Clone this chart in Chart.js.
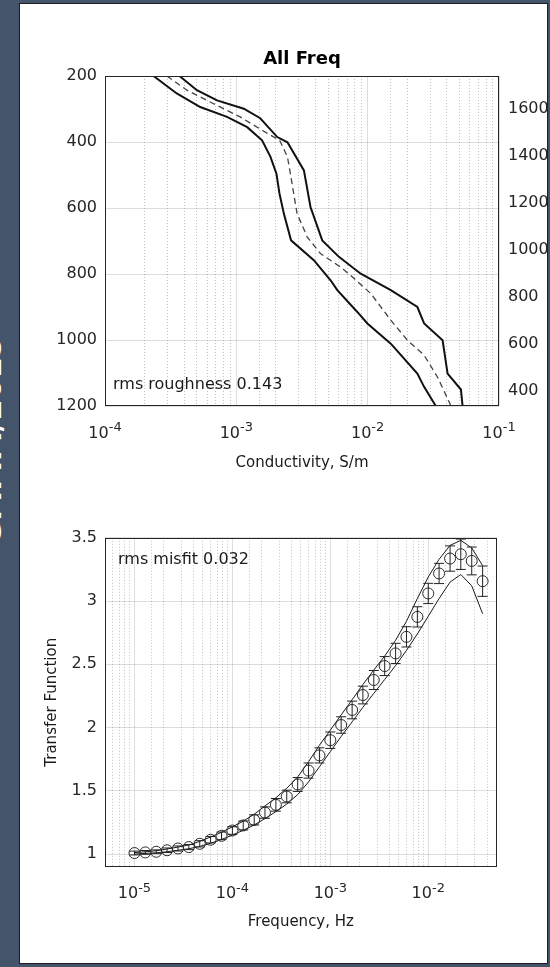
<!DOCTYPE html>
<html>
<head>
<meta charset="utf-8">
<script src="https://cdn.jsdelivr.net/npm/chart.js@4.4.1/dist/chart.umd.min.js"></script>
<style>
  body { margin: 0; width: 550px; height: 967px; background: #44546a; position: relative; overflow: hidden; }
  .side { position: absolute; left: -122px; top: 426px; width: 220px; height: 30px; line-height: 30px;
          color: #fff; font: bold 30px "DejaVu Sans", sans-serif; text-align: center; white-space: nowrap;
          transform: rotate(-90deg); }
  .panel { position: absolute; left: 19px; top: 3px; width: 527px; height: 959px; background: #fff; border: 1px solid #1e1e1e; }
  canvas { position: absolute; left: 0; }
</style>
</head>
<body>
<div class="side">GMMM/2015</div>
<div class="panel"></div>
<canvas id="topChart" width="550" height="490" style="top:0"></canvas>
<canvas id="botChart" width="550" height="487" style="top:480px"></canvas>
<script>
// ---- top panel: conductivity bounds vs depth ----
const condTicks = [1e-4, 1e-3, 1e-2, 1e-1];
const condTickLabels = ["10^-4", "10^-3", "10^-2", "10^-1"];
const depthTicks = [200, 400, 600, 800, 1000, 1200];
const depthTickLabels = ["200", "400", "600", "800", "1000", "1200"];
const rightTicks = [400, 600, 800, 1000, 1200, 1400, 1600];
const rightTickLabels = ["400", "600", "800", "1000", "1200", "1400", "1600"];

const loDepth = [200, 253, 294, 324, 355, 395, 445, 496, 556, 617, 698, 758, 819, 849, 915, 950, 1011, 1102, 1142, 1200];
const loSigma = [2.34e-4, 3.52e-4, 5.31e-4, 8.49e-4, 1.21e-3, 1.57e-3, 1.82e-3, 2.02e-3, 2.13e-3, 2.30e-3,
                 2.61e-3, 3.89e-3, 5.22e-3, 5.87e-3, 8.34e-3, 9.95e-3, 0.0150, 0.0239, 0.0269, 0.0330];

const midDepth = [200, 243, 284, 324, 365, 395, 445, 496, 617, 688, 738, 779, 804, 859, 940, 1001, 1046, 1112, 1200];
const midSigma = [2.96e-4, 4.21e-4, 6.71e-4, 1.07e-3, 1.58e-3, 2.14e-3, 2.45e-3, 2.58e-3, 2.90e-3, 3.47e-3,
                  4.37e-3, 6.22e-3, 7.41e-3, 0.01055, 0.0150, 0.0201, 0.0269, 0.0340, 0.0431];

const hiDepth = [200, 243, 274, 299, 328, 385, 401, 486, 597, 698, 748, 799, 849, 900, 950, 1001, 1102, 1150, 1200];
const hiSigma = [3.69e-4, 5.01e-4, 7.13e-4, 1.14e-3, 1.52e-3, 2.05e-3, 2.45e-3, 3.27e-3, 3.67e-3, 4.51e-3,
                 6.04e-3, 8.85e-3, 0.0150, 0.0239, 0.0269, 0.0372, 0.0406, 0.0513, 0.0528];

// ---- bottom panel: transfer function vs frequency ----
const freqTicks = [1e-5, 1e-4, 1e-3, 1e-2];
const freqTickLabels = ["10^-5", "10^-4", "10^-3", "10^-2"];
const tfTicks = [1, 1.5, 2, 2.5, 3, 3.5];
const tfTickLabels = ["1", "1.5", "2", "2.5", "3", "3.5"];

const freq = [1.00e-5, 1.29e-5, 1.67e-5, 2.15e-5, 2.78e-5, 3.59e-5, 4.64e-5, 5.99e-5, 7.74e-5,
              1.00e-4, 1.29e-4, 1.67e-4, 2.15e-4, 2.78e-4, 3.59e-4, 4.64e-4, 5.99e-4, 7.74e-4,
              1.00e-3, 1.29e-3, 1.67e-3, 2.15e-3, 2.78e-3, 3.59e-3, 4.64e-3, 5.99e-3, 7.74e-3,
              1.00e-2, 1.29e-2, 1.67e-2, 2.15e-2, 2.78e-2, 3.59e-2];
const tfObs = [1.008, 1.013, 1.018, 1.030, 1.044, 1.055, 1.081, 1.113, 1.144,
               1.186, 1.226, 1.270, 1.328, 1.389, 1.455, 1.550, 1.660, 1.780,
               1.900, 2.020, 2.139, 2.257, 2.376, 2.486, 2.586, 2.717, 2.875,
               3.060, 3.218, 3.336, 3.370, 3.317, 3.157];
const tfErr = [0.015, 0.015, 0.015, 0.018, 0.020, 0.020, 0.025, 0.025, 0.030,
               0.030, 0.035, 0.040, 0.045, 0.050, 0.050, 0.055, 0.060, 0.060,
               0.065, 0.065, 0.070, 0.070, 0.075, 0.075, 0.080, 0.080, 0.080,
               0.080, 0.080, 0.100, 0.120, 0.110, 0.120];
const tfLo = [1.000, 1.005, 1.010, 1.018, 1.030, 1.042, 1.060, 1.085, 1.115,
              1.150, 1.188, 1.230, 1.280, 1.335, 1.395, 1.470, 1.570, 1.690,
              1.810, 1.930, 2.045, 2.160, 2.270, 2.380, 2.490, 2.610, 2.740,
              2.880, 3.020, 3.150, 3.210, 3.120, 2.900];
const tfHi = [1.012, 1.018, 1.026, 1.040, 1.055, 1.072, 1.100, 1.135, 1.172,
              1.215, 1.260, 1.315, 1.380, 1.445, 1.520, 1.610, 1.730, 1.860,
              1.980, 2.100, 2.220, 2.340, 2.455, 2.565, 2.690, 2.840, 3.020,
              3.190, 3.330, 3.440, 3.480, 3.420, 3.280];

Chart.defaults.font.family = '"DejaVu Sans", sans-serif';
Chart.defaults.color = "#262626";
Chart.defaults.animation = false;

const FONT = '"DejaVu Sans", sans-serif';
const MAJOR_GRID = "rgba(0,0,0,0.13)";
const MINOR_GRID = "rgba(0,0,0,0.24)";
const pts = (xs, ys) => xs.map((x, i) => ({ x, y: ys[i] }));
const isDecade = (v) => Math.abs(Math.log10(v) - Math.round(Math.log10(v))) < 1e-6;
const labelFor = (ticks, labels) => (v) => {
  const i = ticks.findIndex((t) => Math.abs(t - v) <= Math.abs(t) * 1e-6);
  return i < 0 ? "" : labels[i];
};

// box round the plot area, the note inside it, and the 10^n labels under the log axis
const boxNote = {
  id: "boxNote",
  afterDraw(chart, args, o) {
    const { ctx, chartArea: a } = chart;
    ctx.save();
    ctx.strokeStyle = "#262626";
    ctx.lineWidth = 1;
    ctx.strokeRect(Math.round(a.left) + 0.5, Math.round(a.top) + 0.5, Math.round(a.width) - 1, Math.round(a.height) - 1);

    ctx.fillStyle = "#1a1a1a";
    ctx.font = "16px " + FONT;
    ctx.textBaseline = "middle";
    ctx.fillText(o.text, a.left + o.dx, o.fromBottom ? a.bottom - o.dy : a.top + o.dy);

    const sx = chart.scales.x;
    ctx.fillStyle = "#262626";
    ctx.textBaseline = "alphabetic";
    o.ticks.forEach((v, i) => {
      const [base, exp] = o.labels[i].split("^");
      ctx.font = "16px " + FONT;
      const wb = ctx.measureText(base).width;
      ctx.font = "13px " + FONT;
      const we = ctx.measureText(exp).width;
      const x0 = sx.getPixelForValue(v) - (wb + we) / 2;
      const yb = a.bottom + 31.5;
      ctx.font = "16px " + FONT;
      ctx.fillText(base, x0, yb);
      ctx.font = "13px " + FONT;
      ctx.fillText(exp, x0 + wb, yb - 6.5);
    });
    ctx.restore();
  },
};

// main log axis (solid decade lines) and a twin for the dotted minor lines
function logAxes(min, max, title, height, titlePad) {
  return {
    x: {
      type: "logarithmic", position: "bottom", min, max,
      afterFit: (s) => { s.height = height; },
      border: { display: false },
      grid: { drawTicks: false, color: (c) => (c.tick && isDecade(c.tick.value) ? MAJOR_GRID : "transparent") },
      ticks: { display: false, autoSkip: false },
      title: { display: true, text: title, font: { size: 15 }, color: "#1a1a1a", padding: { top: 0, bottom: titlePad } },
    },
    xMinor: {
      type: "logarithmic", position: "bottom", min, max,
      afterFit: (s) => { s.height = 0; },
      border: { display: false, dash: [1, 2] },
      grid: { drawTicks: false, color: (c) => (c.tick && !isDecade(c.tick.value) ? MINOR_GRID : "transparent") },
      ticks: { display: false, autoSkip: false },
    },
  };
}

new Chart(document.getElementById("topChart"), {
  type: "scatter",
  data: {
    datasets: [
      { data: pts(loSigma, loDepth), showLine: true, borderColor: "#111", borderWidth: 2, pointRadius: 0 },
      { data: pts(midSigma, midDepth), showLine: true, borderColor: "#444", borderWidth: 1.3, borderDash: [6, 4], pointRadius: 0 },
      { data: pts(hiSigma, hiDepth), showLine: true, borderColor: "#111", borderWidth: 2, pointRadius: 0 },
    ],
  },
  options: {
    responsive: false,
    layout: { padding: 0 },
    plugins: {
      legend: { display: false },
      tooltip: { enabled: false },
      title: {
        display: true, text: "All Freq", fullSize: false, color: "#000",
        font: { size: 18, weight: "bold" }, padding: { top: 49, bottom: 5.4 },
      },
      boxNote: { text: "rms roughness 0.143", dx: 8, dy: 21, fromBottom: true, ticks: condTicks, labels: condTickLabels },
    },
    scales: {
      ...logAxes(1e-4, 1e-1, "Conductivity, S/m", 84, 18),
      y: {
        type: "linear", reverse: true, min: 200, max: 1200,
        afterFit: (s) => { s.width = 105; },
        afterBuildTicks: (s) => { s.ticks = depthTicks.map((value) => ({ value })); },
        border: { display: false },
        grid: { drawTicks: false, color: MAJOR_GRID },
        ticks: { padding: 8, font: { size: 16 }, callback: labelFor(depthTicks, depthTickLabels) },
      },
      y2: {
        type: "linear", position: "right", min: 336, max: 1742,
        afterFit: (s) => { s.width = 51; },
        afterBuildTicks: (s) => { s.ticks = rightTicks.map((value) => ({ value })); },
        border: { display: false },
        grid: { drawTicks: false, drawOnChartArea: false },
        ticks: { padding: 9, font: { size: 16 }, callback: labelFor(rightTicks, rightTickLabels) },
      },
    },
  },
  plugins: [boxNote],
});

new Chart(document.getElementById("botChart"), {
  type: "scatter",
  data: {
    datasets: [
      {
        // error bars: one short vertical segment per frequency, caps from the 'line' point style
        data: freq.flatMap((f, i) => [{ x: f, y: tfObs[i] - tfErr[i] }, { x: f, y: tfObs[i] + tfErr[i] }, { x: f, y: null }]),
        showLine: true, spanGaps: false, borderColor: "#222", borderWidth: 1,
        pointStyle: "line", pointRadius: 5, pointBorderColor: "#222", pointBorderWidth: 1,
      },
      {
        data: pts(freq, tfObs), pointStyle: "circle", pointRadius: 5.5,
        pointBackgroundColor: "rgba(0,0,0,0)", pointBorderColor: "#2a2a2a", pointBorderWidth: 1,
      },
      { data: pts(freq, tfLo), showLine: true, borderColor: "#1a1a1a", borderWidth: 1, pointRadius: 0 },
      { data: pts(freq, tfHi), showLine: true, borderColor: "#1a1a1a", borderWidth: 1, pointRadius: 0 },
    ],
  },
  options: {
    responsive: false,
    layout: { padding: { top: 57.8, right: 53.3 } },
    plugins: {
      legend: { display: false },
      tooltip: { enabled: false },
      boxNote: { text: "rms misfit 0.032", dx: 13, dy: 22, fromBottom: false, ticks: freqTicks, labels: freqTickLabels },
    },
    scales: {
      ...logAxes(5e-6, 5e-2, "Frequency, Hz", 100.3, 36),
      y: {
        type: "linear", min: 0.9, max: 3.5,
        afterFit: (s) => { s.width = 105; },
        afterBuildTicks: (s) => { s.ticks = tfTicks.map((value) => ({ value })); },
        border: { display: false },
        grid: { drawTicks: false, color: MAJOR_GRID },
        ticks: { padding: 8, font: { size: 16 }, callback: labelFor(tfTicks, tfTickLabels) },
        title: { display: true, text: "Transfer Function", font: { size: 15 }, color: "#1a1a1a", padding: { top: 43, bottom: 0 } },
      },
    },
  },
  plugins: [boxNote],
});
</script>
</body>
</html>
